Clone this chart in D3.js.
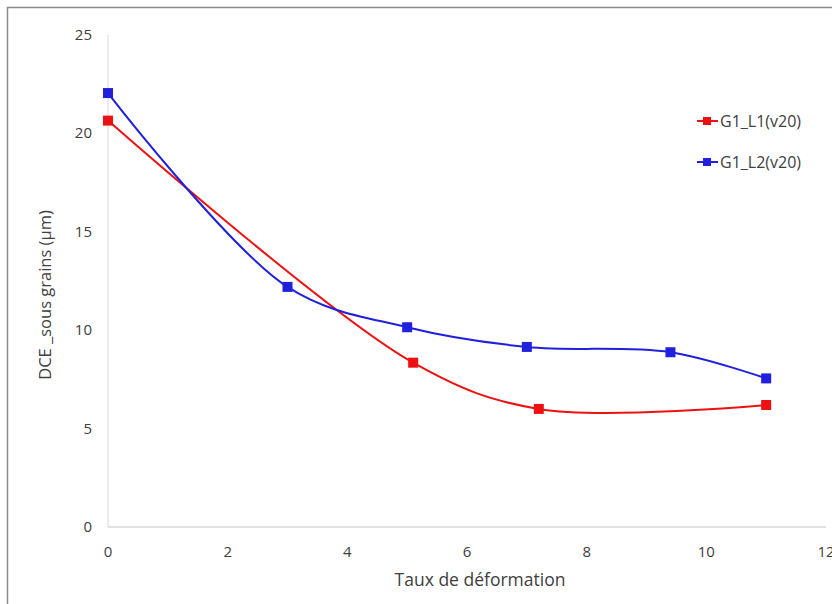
<!DOCTYPE html>
<html><head><meta charset="utf-8">
<script src="https://cdn.jsdelivr.net/npm/d3@7"></script>
<style>body{margin:0;background:#fff}svg{display:block}text{font-family:"Open Sans","Liberation Sans",Arial,sans-serif;fill:#404040}</style>
</head><body><svg id="c" width="832" height="604"></svg>
<script>
const xTicks = [0,2,4,6,8,10,12];
const yTicks = [0,5,10,15,20,25];
const seriesNames = ["G1_L1(v20)", "G1_L2(v20)"];
const seriesColors = ["#ee1111", "#2020dd"];
const l1x = [0, 5.1, 7.2, 11];
const l1y = [20.65, 8.35, 6.0, 6.2];
const l2x = [0, 3, 5, 7, 9.4, 11];
const l2y = [22.05, 12.2, 10.15, 9.15, 8.88, 7.55];

const svg = d3.select("#c");
svg.append("rect").attr("x",7.5).attr("y",7.5).attr("width",840).attr("height",620)
  .attr("fill","none").attr("stroke","#8a8a8a").attr("stroke-width",1.5);

const x = d3.scaleLinear().domain([0,12]).range([108,826]);
const y = d3.scaleLinear().domain([0,25]).range([527,35]);

// axes
svg.append("line").attr("x1",x(0)).attr("x2",x(0)).attr("y1",y(25)).attr("y2",y(0)).attr("stroke","#d9d9d9").attr("stroke-width",1);
svg.append("line").attr("x1",x(0)).attr("x2",x(12)).attr("y1",y(0)).attr("y2",y(0)).attr("stroke","#d9d9d9").attr("stroke-width",1.5);

svg.selectAll(".yt").data(yTicks).enter().append("text")
  .attr("x",92).attr("y",d=>y(d)+5).attr("text-anchor","end").attr("font-size",15).text(d=>d);
svg.selectAll(".xt").data(xTicks).enter().append("text")
  .attr("x",d=>x(d)).attr("y",557).attr("text-anchor","middle").attr("font-size",15).text(d=>d);

svg.append("text").attr("x",480).attr("y",586).attr("text-anchor","middle").attr("font-size",17.5).text("Taux de déformation");
svg.append("text").attr("transform","translate(51,295) rotate(-90)").attr("text-anchor","middle").attr("font-size",16.5).text("DCE _sous grains (µm)");

const series = [
  {name:seriesNames[0], color:seriesColors[0], pts:l1x.map((v,i)=>[v,l1y[i]])},
  {name:seriesNames[1], color:seriesColors[1], pts:l2x.map((v,i)=>[v,l2y[i]])}
];
const line = d3.line().x(d=>x(d[0])).y(d=>y(d[1])).curve(d3.curveCatmullRom.alpha(0.5));
const ms = 10;
series.forEach(s=>{
  svg.append("path").attr("d",line(s.pts)).attr("fill","none").attr("stroke",s.color).attr("stroke-width",2);
  svg.selectAll(null).data(s.pts).enter().append("rect")
    .attr("x",d=>x(d[0])-ms/2).attr("y",d=>y(d[1])-ms/2).attr("width",ms).attr("height",ms).attr("fill",s.color);
});

// legend
series.forEach((s,i)=>{
  const ly = 121 + i*41;
  svg.append("line").attr("x1",697).attr("x2",718).attr("y1",ly).attr("y2",ly).attr("stroke",s.color).attr("stroke-width",2);
  svg.append("rect").attr("x",703).attr("y",ly-4).attr("width",8).attr("height",8).attr("fill",s.color);
  svg.append("text").attr("x",720).attr("y",ly+5.5).attr("font-size",16).text(s.name);
});
</script></body></html>
